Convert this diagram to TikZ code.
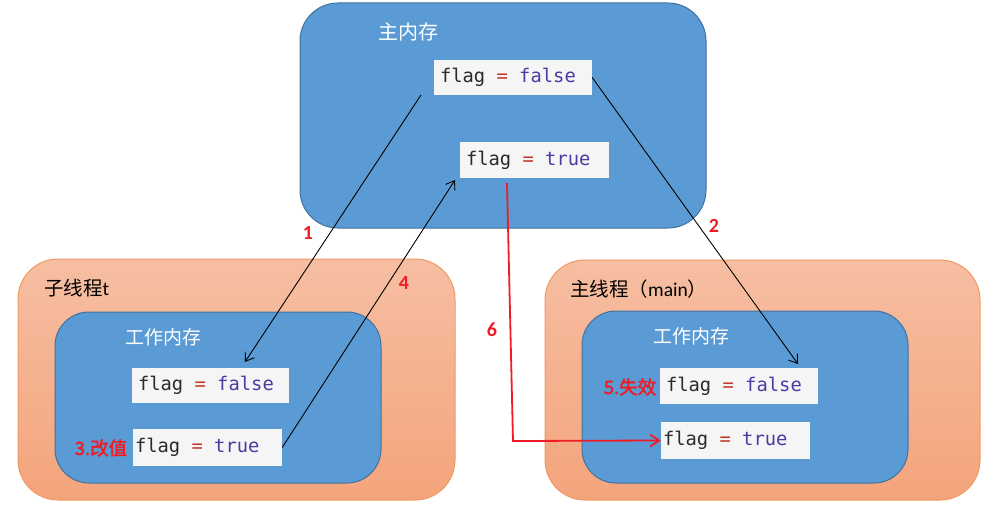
\documentclass[tikz,border=0pt]{standalone}
\usepackage{fontspec}
\setmainfont{Carlito}
\newfontfamily\cjk{Noto Sans CJK SC}
\newfontfamily\cjkb{Noto Sans CJK SC}[FakeBold=2]
\newfontfamily\code{DejaVu Sans Mono}
\usetikzlibrary{arrows.meta}
\definecolor{memblue}{HTML}{5B9BD5}
\definecolor{memborder}{HTML}{41719C}
\definecolor{thrtop}{HTML}{F6BEA2}
\definecolor{thrbot}{HTML}{F4A47C}
\definecolor{thrborder}{HTML}{F19A60}
\definecolor{codebg}{HTML}{F5F5F5}
\definecolor{codetxt}{HTML}{2B2B2B}
\definecolor{codeeq}{HTML}{C0392B}
\definecolor{codeval}{HTML}{4B3BA3}
\definecolor{lblred}{HTML}{EE1C25}
\newcommand{\csp}{\phantom{x}}
\newcommand{\flagv}[1]{{\code\color{codetxt}flag\csp\textcolor{codeeq}{=}\csp\textcolor{codeval}{#1}}}
\tikzset{
  mem/.style={draw=memborder, fill=memblue, line width=1pt, rounded corners=38pt, inner sep=0pt},
  thr/.style={draw=thrborder, top color=thrtop, bottom color=thrbot, line width=1pt, rounded corners=40pt, inner sep=0pt},
  codebox/.style={fill=codebg, inner xsep=6pt, inner ysep=0pt, text width=#1, align=left, font=\fontsize{18.8}{20}\selectfont},
  wtitle/.style={text=white, font=\cjk\fontsize{19}{22}\selectfont, inner sep=0pt},
  btitle/.style={text=black, font=\cjk\fontsize{19.5}{22}\selectfont, inner sep=0pt},
  rlabel/.style={text=lblred, font=\bfseries\fontsize{20}{22}\selectfont, inner sep=0pt},
  arr/.style={draw=black, line width=0.9pt, -{Straight Barb[length=8pt,width=11pt]}},
  rarr/.style={draw=lblred, line width=1.8pt, -{Straight Barb[length=9pt,width=12pt]}}
}
\begin{document}
\begin{tikzpicture}[x=1pt,y=-1pt]
\useasboundingbox (0,0) rectangle (1001,527);
% containers
\node[mem, minimum width=406pt, minimum height=225pt] (main) at (503,115.5) {};
\node[thr, minimum width=437pt, minimum height=241pt] (lo) at (236.5,379.5) {};
\node[mem, rounded corners=34pt, minimum width=326pt, minimum height=171pt] (li) at (218,397.5) {};
\node[thr, minimum width=435pt, minimum height=240pt] (ro) at (762.5,380) {};
\node[mem, rounded corners=34pt, minimum width=326pt, minimum height=172pt] (ri) at (745,397) {};
% titles
\node[wtitle, font=\cjk\fontsize{20}{22}\selectfont] (tmain) at (408,32) {主内存};
\node[btitle, anchor=west] (tlo) at (44,288) {子线程\textrm{t}};
\node[wtitle] (tli) at (163,337) {工作内存};
\node[btitle, anchor=west] (tro) at (570,289) {主线程（\textrm{main}）};
\node[wtitle] (tri) at (691,336) {工作内存};
% code boxes
\node[codebox=146pt, minimum height=35pt] (mf) at (513,77.5) {\flagv{false}};
\node[codebox=137pt, minimum height=36pt] (mt) at (534.5,160) {\flagv{true}};
\node[codebox=145pt, minimum height=35pt] (lf) at (210.5,385.5) {\flagv{false}};
\node[codebox=137pt, minimum height=37pt, inner xsep=2pt, text width=145pt] (lt) at (207.5,447.5) {\flagv{true}};
\node[codebox=146pt, minimum height=36pt] (rf) at (739,386) {\flagv{false}};
\node[codebox=137pt, minimum height=37pt, inner xsep=2pt, text width=145pt] (rt) at (735.5,440.5) {\flagv{true}};
% side labels
\node[rlabel, font=\cjkb\fontsize{18.5}{20}\selectfont] (l3) at (101,448) {3.改值};
\node[rlabel, font=\cjkb\fontsize{18.5}{20}\selectfont] (l5) at (630,387) {5.失效};
% connector ends
\coordinate (a1s) at (421,95);
\coordinate (a1e) at (245,362);
\coordinate (a2e) at (798,364);
\coordinate (a4e) at (455,180);
\coordinate (a6s) at (507,183);
\coordinate (a6m) at (513,441);
% connectors
\draw[arr] (a1s) -- (a1e);
\draw[arr] (mf.east) -- (a2e);
\draw[arr] (lt.east) -- (a4e);
\draw[rarr] (a6s) -- (a6m) -- (rt.west);
% step numbers
\node[rlabel] (n1) at (308,233) {1};
\node[rlabel] (n2) at (714,226) {2};
\node[rlabel] (n4) at (404,283) {4};
\node[rlabel] (n6) at (492,330) {6};
\end{tikzpicture}
\end{document}
